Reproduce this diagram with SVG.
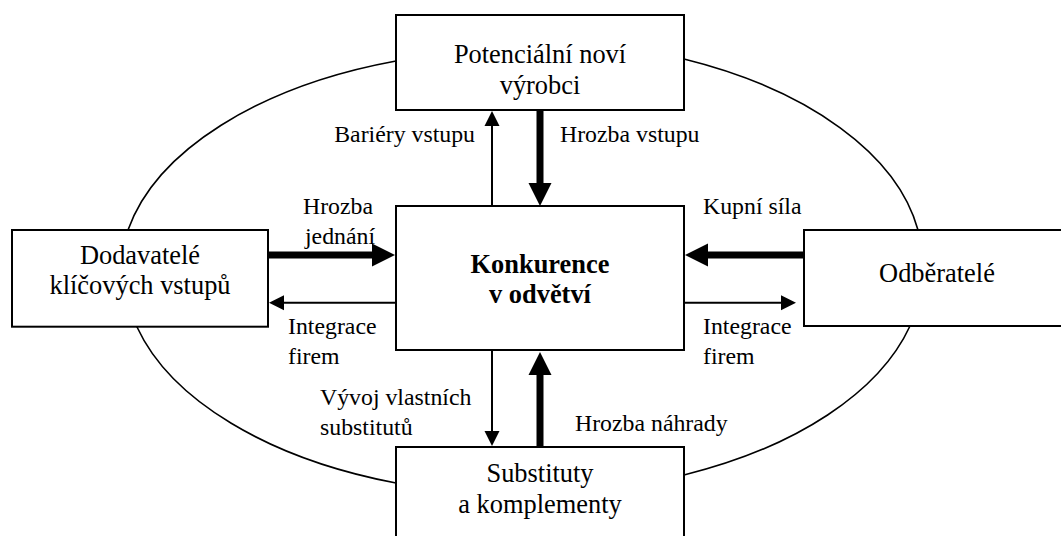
<svg xmlns="http://www.w3.org/2000/svg" width="1061" height="536" viewBox="0 0 1061 536">
<style>
.box{fill:#fff;stroke:#000;stroke-width:2}
text{font-family:'Liberation Serif',serif;fill:#000}
.node{font-size:26.4px;text-anchor:middle}
.bold{font-weight:bold}
.lbl{font-size:23.8px}
.thin{stroke:#000;stroke-width:2;fill:none;marker-end:url(#hThin)}
.thick{stroke:#000;stroke-width:7;fill:none;marker-end:url(#hThick)}
.ring{fill:none;stroke:#000;stroke-width:1.6}
</style>
<defs>
<marker id="hThin" markerUnits="userSpaceOnUse" markerWidth="16" markerHeight="16" refX="0" refY="7.5" orient="auto" viewBox="0 0 16 15" overflow="visible">
<path d="M0,0 L15,7.5 L0,15 Z" fill="#000"/>
</marker>
<marker id="hThick" markerUnits="userSpaceOnUse" markerWidth="24" markerHeight="24" refX="0" refY="11.5" orient="auto" viewBox="0 0 24 23" overflow="visible">
<path d="M0,0 L23,11.5 L0,23 Z" fill="#000"/>
</marker>
</defs>
<rect width="1061" height="536" fill="#fff"/>
<path class="ring" d="M396,61 A401,224 0 0 0 128,230 L137,327 A401,224 0 0 0 396,483 L684,475 A401,224 0 0 0 910,326 L918,230 A401,224 0 0 0 684,59 Z"/>
<g id="connectors">
<line class="thin" x1="492" y1="206" x2="492" y2="126"/>
<line class="thick" x1="540" y1="110" x2="540" y2="183"/>
<line class="thick" x1="268" y1="255" x2="372" y2="255"/>
<line class="thick" x1="804" y1="255" x2="708" y2="255"/>
<line class="thin" x1="396" y1="302.7" x2="284" y2="302.7"/>
<line class="thin" x1="684" y1="302.7" x2="781" y2="302.7"/>
<line class="thin" x1="492" y1="350" x2="492" y2="431"/>
<line class="thick" x1="540" y1="447" x2="540" y2="375"/>
<text class="lbl" x="475" y="142" text-anchor="end" font-family="Liberation Serif, serif">Bariéry vstupu</text>
<text class="lbl" x="560" y="142" font-family="Liberation Serif, serif">Hrozba vstupu</text>
<text class="lbl" x="303" y="214" font-family="Liberation Serif, serif">Hrozba</text>
<text class="lbl" x="305" y="244" font-family="Liberation Serif, serif">jednání</text>
<text class="lbl" x="703" y="214" font-family="Liberation Serif, serif">Kupní síla</text>
<text class="lbl" x="288" y="334" font-family="Liberation Serif, serif">Integrace</text>
<text class="lbl" x="288" y="364" font-family="Liberation Serif, serif">firem</text>
<text class="lbl" x="703" y="334" font-family="Liberation Serif, serif">Integrace</text>
<text class="lbl" x="703" y="364" font-family="Liberation Serif, serif">firem</text>
<text class="lbl" x="320" y="405" font-family="Liberation Serif, serif">Vývoj vlastních</text>
<text class="lbl" x="320" y="435" font-family="Liberation Serif, serif">substitutů</text>
<text class="lbl" x="575" y="431" font-family="Liberation Serif, serif">Hrozba náhrady</text>
</g>
<g id="node-potencialni">
<rect class="box" x="396" y="15" width="288" height="95"/>
<text class="node" x="540" y="63.3" font-family="Liberation Serif, serif">Potenciální noví</text>
<text class="node" x="540" y="94" font-family="Liberation Serif, serif">výrobci</text>
</g>
<g id="node-konkurence">
<rect class="box" x="396" y="206" width="288" height="144"/>
<text class="node bold" x="540" y="272.7" font-family="Liberation Serif, serif">Konkurence</text>
<text class="node bold" x="540" y="303.3" font-family="Liberation Serif, serif">v odvětví</text>
</g>
<g id="node-dodavatele">
<rect class="box" x="12" y="230" width="256" height="96.7"/>
<text class="node" x="140" y="264.3" font-family="Liberation Serif, serif">Dodavatelé</text>
<text class="node" x="140" y="294.3" font-family="Liberation Serif, serif">klíčových vstupů</text>
</g>
<g id="node-odberatele">
<rect class="box" x="804" y="230" width="270" height="96"/>
<text class="node" x="937" y="282" font-family="Liberation Serif, serif">Odběratelé</text>
</g>
<g id="node-substituty">
<rect class="box" x="396" y="447" width="288" height="100"/>
<text class="node" x="540" y="481.7" font-family="Liberation Serif, serif">Substituty</text>
<text class="node" x="540" y="513.3" font-family="Liberation Serif, serif">a komplementy</text>
</g>
</svg>
